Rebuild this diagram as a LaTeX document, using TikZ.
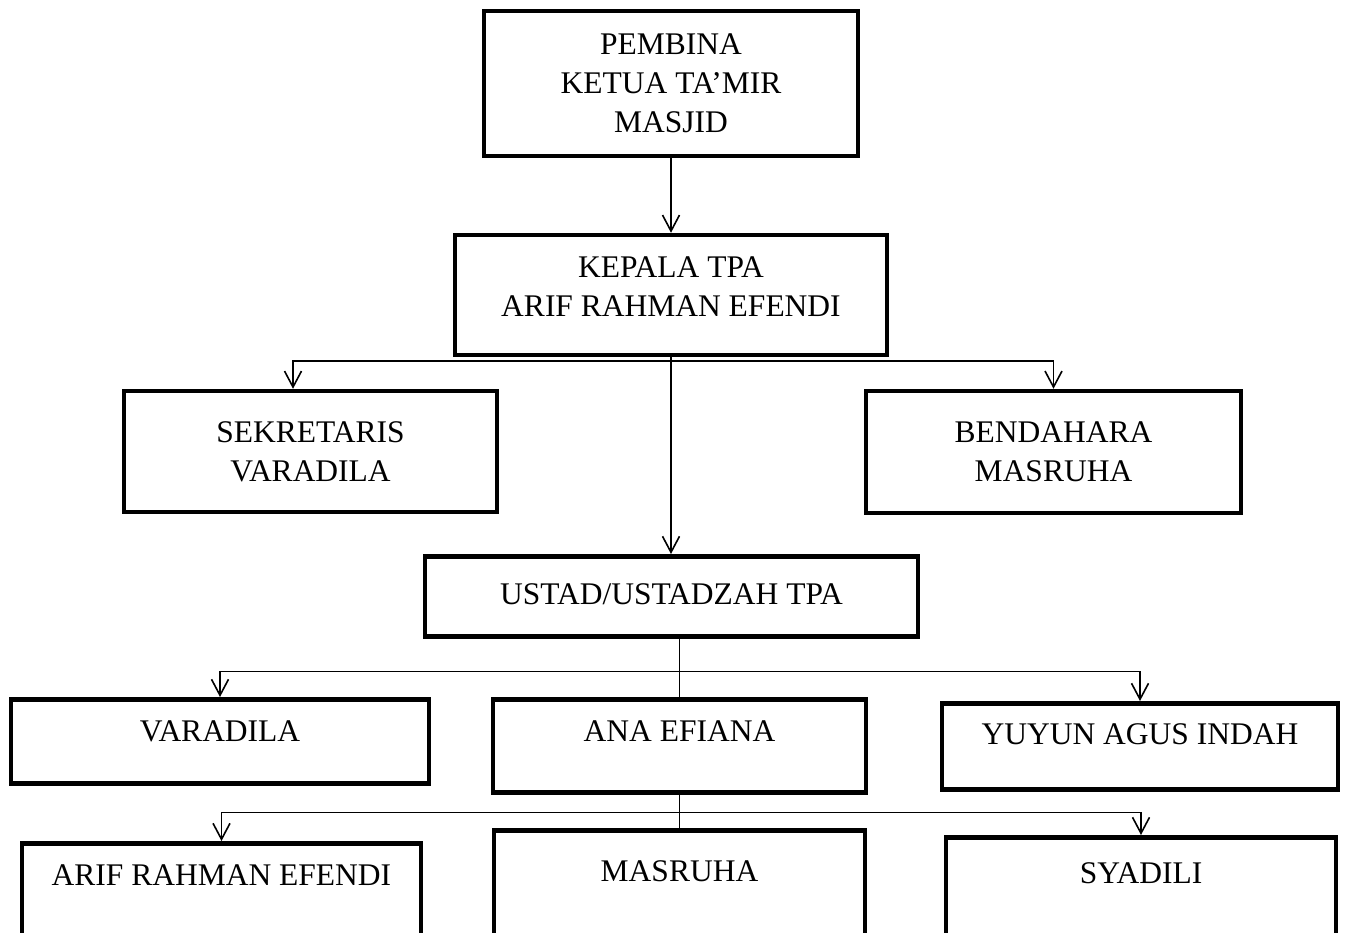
\documentclass[tikz,border=0pt]{standalone}
\usepackage{fontspec}
\setmainfont{Liberation Serif}
\usetikzlibrary{arrows.meta, positioning, calc}

\tikzset{
  box/.style={draw, rectangle, line width=4.5pt, minimum width=#1, font=\fontsize{31.5}{39}\selectfont},
  tall/.style={align=center, inner sep=0pt},
  flat/.style 2 args={inner sep=0pt, text height=#1, text depth=#2, anchor=north},
  link/.style={line width=1.6pt},
  arr/.style={link, -{Straight Barb[length=16pt, width=17pt]}}
}

\begin{document}
\begin{tikzpicture}[x=1pt, y=-1pt]
        \useasboundingbox (0,0) rectangle (1346,932);
        % top of the chart
        \node[box=374pt, tall, minimum height=145pt] (pembina) at (671,83.5) {PEMBINA\\KETUA TA’MIR\\MASJID};
        \node[box=432pt, tall, minimum height=120pt, text depth=16pt] (kepala) at (671,295) {KEPALA TPA\\ARIF RAHMAN EFENDI};
        \node[box=373pt, tall, minimum height=121pt] (sekretaris) at (310.5,451.5) {SEKRETARIS\\VARADILA};
        \node[box=375pt, tall, minimum height=122pt] (bendahara) at (1053.5,452) {BENDAHARA\\MASRUHA};
        \node[box=493pt, flat={48.5pt}{31.5pt}] (ustad) at (671.5,554) {USTAD/USTADZAH TPA};
        % teachers
        \node[box=418pt, flat={42pt}{42pt}] (varadila) at (220,697) {VARADILA};
        \node[box=373pt, flat={42pt}{51pt}] (ana) at (679.5,697) {ANA EFIANA};
        \node[box=396pt, flat={41.5pt}{44.5pt}] (yuyun) at (1140,701) {YUYUN AGUS INDAH};
        \node[box=399pt, flat={42pt}{150pt}] (arif) at (221.5,841) {ARIF RAHMAN EFENDI};
        \node[box=371pt, flat={51pt}{150pt}] (masruha) at (679.5,828) {MASRUHA};
        \node[box=390pt, flat={46pt}{150pt}] (syadili) at (1141,835) {SYADILI};
        % connectors
        \draw[arr] (pembina) -- (kepala);
        \draw[arr] (kepala.south) -- (kepala.south |- ustad.north);
        \coordinate (kbar) at ($(kepala.south)+(0,4)$);
        \draw[arr] (kbar) -| ([xshift=-17.5pt]sekretaris.north);
        \draw[arr] (kbar) -| (bendahara.north);
        \draw[link] (ustad.south -| ana.north) -- (ana.north);
        \coordinate (ubar) at ($(ustad.south -| ana.north)+(0,33)$);
        \draw[arr] (ubar) -| (varadila.north);
        \draw[arr] (ubar) -| (yuyun.north);
        \draw[link] ([yshift=4pt]ana.south) -- (masruha.north);
        \coordinate (abar) at ($(ana.south)+(0,18)$);
        \draw[arr] (abar) -| (arif.north);
        \draw[arr] (abar) -| (syadili.north);
\end{tikzpicture}
\end{document}
